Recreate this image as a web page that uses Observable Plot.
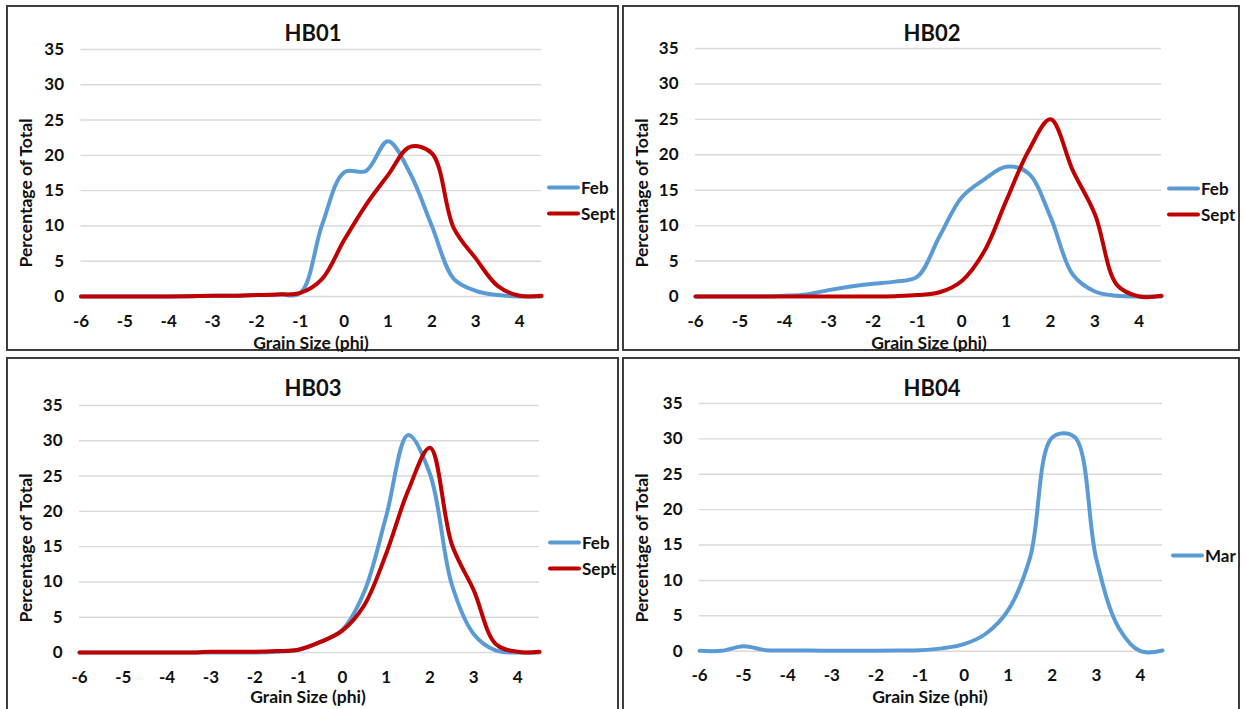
<!DOCTYPE html>
<html>
<head>
<meta charset="utf-8">
<script src="https://cdn.jsdelivr.net/npm/d3@7"></script>
<script src="https://cdn.jsdelivr.net/npm/@observablehq/plot@0.6"></script>
<style>
  html, body { margin: 0; padding: 0; background: #fff; }
  body { width: 1244px; height: 709px; overflow: hidden; position: relative; font-family: Lato, "Open Sans", sans-serif; color: #111; }
  .panel { position: absolute; box-sizing: border-box; border: 2px solid #3c3c3c; }
  .abs { position: absolute; white-space: nowrap; line-height: 1; transform: translate(-50%, -50%); }
  .title { font-size: 22px; font-weight: 700; }
  .axt { font-size: 17.5px; font-weight: 700; }
  .yt { transform: translate(-50%, -50%) rotate(-90deg); }
  .leg { position: absolute; display: flex; align-items: center; font-size: 17px; font-weight: 700; transform: translateY(-50%); }
  .leg span.sw { display: inline-block; width: 33px; height: 4px; border-radius: 2px; margin-right: 1px; }
  svg { position: absolute; }
</style>
</head>
<body>
<script>
// ---- data ----
const phi = [-6, -5.5, -5, -4.5, -4, -3.5, -3, -2.5, -2, -1.5, -1, -0.5, 0, 0.5, 1, 1.5, 2, 2.5, 3, 3.5, 4, 4.5];
const xTicks = [-6, -5, -4, -3, -2, -1, 0, 1, 2, 3, 4];
const yTicks = [0, 5, 10, 15, 20, 25, 30, 35];
const panelTitles = ["HB01", "HB02", "HB03", "HB04"];
const xTitle = "Grain Size (phi)";
const yTitle = "Percentage of Total";

const hb01Feb  = [0, 0, 0, 0, 0, 0.05, 0.1, 0.1, 0.2, 0.3, 0.5, 10.2, 17.6, 17.8, 22, 17.5, 10, 2.5, 0.8, 0.2, 0, 0];
const hb01Sept = [0, 0, 0, 0, 0, 0.05, 0.1, 0.1, 0.2, 0.3, 0.5, 2.5, 8, 13, 17.2, 21.2, 20.3, 9.7, 5.4, 1.5, 0.1, 0.1];
const hb02Feb  = [0, 0, 0, 0, 0.1, 0.3, 0.9, 1.4, 1.8, 2.1, 2.8, 8.5, 14, 16.5, 18.3, 17.4, 11.2, 3.1, 0.7, 0.1, 0, 0];
const hb02Sept = [0, 0, 0, 0, 0, 0, 0, 0, 0, 0.05, 0.2, 0.6, 2.2, 6.3, 13.5, 20.5, 25, 17.8, 11.6, 1.6, 0, 0.1];
const hb03Feb  = [0, 0, 0, 0, 0, 0, 0, 0, 0, 0.1, 0.4, 1.5, 3.2, 8.6, 19.3, 30.8, 25.3, 9.6, 2.6, 0.3, 0, 0];
const hb03Sept = [0, 0, 0, 0, 0, 0, 0.1, 0.1, 0.1, 0.2, 0.4, 1.5, 3.1, 6.7, 14, 22.9, 29, 15.3, 8.8, 1.2, 0.1, 0.1];
const hb04Mar  = [0.05, 0.05, 0.7, 0.15, 0.1, 0.1, 0.05, 0.05, 0.05, 0.1, 0.15, 0.4, 1.0, 2.5, 5.8, 13.3, 30.2, 30.3, 13.0, 3.4, 0, 0.1];

const seriesNames = ["Feb", "Sept", "Mar"];
const seriesColors = ["#5B9BD5", "#C00000", "#5B9BD5"];

const panelSeries = [
  [["Feb", hb01Feb], ["Sept", hb01Sept]],
  [["Feb", hb02Feb], ["Sept", hb02Sept]],
  [["Feb", hb03Feb], ["Sept", hb03Sept]],
  [["Mar", hb04Mar]]
];

// ---- layout (page px) ----
const layout = [
  {left: 6,   top: 5,   w: 613, h: 346, ml: 74.5, mr: 78, mt: 44, mb: 55,
   title: [313, 33], xt: [311, 343], yt: [26, 193], leg: [547, [187, 213]]},
  {left: 622, top: 5,   w: 618, h: 346, ml: 73,   mr: 79, mt: 43, mb: 55,
   title: [932, 33], xt: [929, 343], yt: [642, 193], leg: [1167, [188, 214]]},
  {left: 6,   top: 357, w: 613, h: 360, ml: 73,   mr: 80, mt: 48, mb: 65,
   title: [313, 388], xt: [308, 697], yt: [26, 548], leg: [548, [542, 568]]},
  {left: 622, top: 357, w: 618, h: 360, ml: 77,   mr: 78, mt: 46, mb: 66.3,
   title: [932, 388], xt: [930, 697], yt: [642, 548], leg: [1171, [555]]}
];

const colorOf = name => seriesColors[seriesNames.indexOf(name)];

function addDiv(cls, text, x, y) {
  const d = document.createElement("div");
  d.className = cls;
  d.textContent = text;
  d.style.left = x + "px";
  d.style.top = y + "px";
  document.body.appendChild(d);
  return d;
}

layout.forEach((L, i) => {
  const border = document.createElement("div");
  border.className = "panel";
  Object.assign(border.style, {left: L.left + "px", top: L.top + "px", width: L.w + "px", height: L.h + "px"});
  document.body.appendChild(border);

  const rows = [];
  panelSeries[i].forEach(([name, vals]) => {
    vals.forEach((v, k) => rows.push({series: name, phi: phi[k], value: v}));
  });
  const names = panelSeries[i].map(s => s[0]);

  const chart = Plot.plot({
    width: L.w, height: L.h,
    marginLeft: L.ml, marginRight: L.mr, marginTop: L.mt, marginBottom: L.mb,
    style: {fontFamily: "Lato, 'Open Sans', sans-serif", fontSize: "17px", fontWeight: 700, color: "#111", background: "transparent", overflow: "visible"},
    x: {domain: [-6, 4.5]},
    y: {domain: [0, 35]},
    color: {domain: names, range: names.map(colorOf)},
    marks: [
      Plot.ruleY(yTicks, {stroke: "#d9d9d9", strokeWidth: 1.4}),
      Plot.axisX({ticks: xTicks, tickSize: 0, tickPadding: 18, tickFormat: d => String(d), label: null}),
      Plot.axisY({ticks: yTicks, tickSize: 0, tickPadding: 17, tickFormat: d => String(d), label: null}),
      Plot.line(rows, {x: "phi", y: "value", z: "series", stroke: "series", curve: "catmull-rom",
                       strokeWidth: 4, strokeLinecap: "round", strokeLinejoin: "round"})
    ]
  });
  chart.style.left = L.left + "px";
  chart.style.top = L.top + "px";
  document.body.appendChild(chart);

  addDiv("abs title", panelTitles[i], L.title[0], L.title[1]);
  addDiv("abs axt", xTitle, L.xt[0], L.xt[1]);
  addDiv("abs axt yt", yTitle, L.yt[0], L.yt[1]);

  names.forEach((name, j) => {
    const lg = document.createElement("div");
    lg.className = "leg";
    lg.style.left = L.leg[0] + "px";
    lg.style.top = L.leg[1][j] + "px";
    const sw = document.createElement("span");
    sw.className = "sw";
    sw.style.background = colorOf(name);
    lg.appendChild(sw);
    lg.appendChild(document.createTextNode(name));
    document.body.appendChild(lg);
  });
});
</script>
</body>
</html>
